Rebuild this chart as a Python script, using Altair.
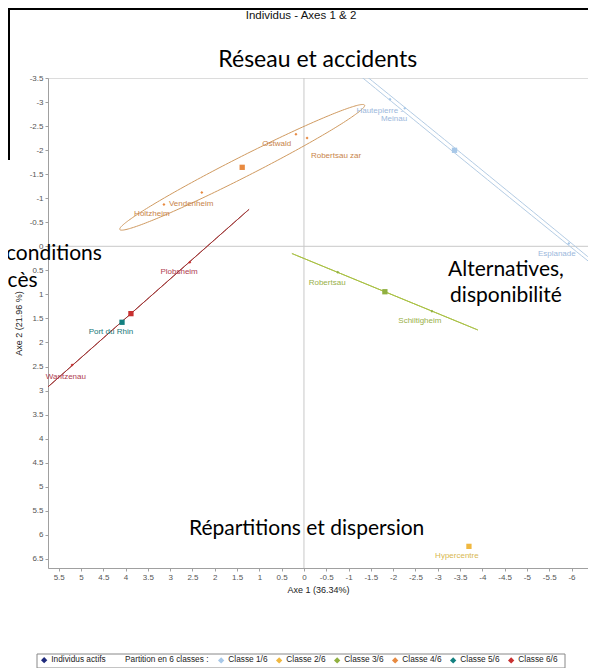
import altair as alt
import numpy as np
import pandas as pd

# ---------------- data ----------------
class_names = ["Classe 1/6", "Classe 2/6", "Classe 3/6", "Classe 4/6", "Classe 5/6", "Classe 6/6"]
point_colors = ["#a8c8e8", "#f0b840", "#90b040", "#e88a40", "#138080", "#c83030"]
ellipse_colors = ["#b4cce4", "#e8c060", "#a8c040", "#d09a60", "#208080", "#a03838"]
label_colors = ["#9cb8dc", "#d8b850", "#98b048", "#c8844a", "#207878", "#b04050"]

names = ["Hautepierre -", "Meinau", "Esplanade", "Hypercentre", "Robertsau", "Schiltigheim",
         "Ostwald", "Robertsau zar", "Vendenheim", "Holtzheim", "Port du Rhin", "Plobsheim", "Wantzenau"]
classes = ["Classe 1/6", "Classe 1/6", "Classe 1/6", "Classe 2/6", "Classe 3/6", "Classe 3/6",
           "Classe 4/6", "Classe 4/6", "Classe 4/6", "Classe 4/6", "Classe 5/6", "Classe 6/6", "Classe 6/6"]
axe1 = [-1.93, -2.26, -5.94, -3.70, -0.76, -2.87, 0.18, -0.07, 2.29, 3.14, 4.08, 2.56, 5.20]
axe2 = [-3.06, -2.87, -0.06, 6.24, 0.54, 1.35, -2.33, -2.25, -1.12, -0.87, 1.58, 0.33, 2.47]
label_x = [-1.70, -2.02, -5.67, -3.43, -0.52, -2.60, 0.61, -0.72, 2.53, 3.41, 4.33, 2.80, 5.34]
label_y = [-2.81, -2.64, 0.15, 6.44, 0.77, 1.56, -2.12, -1.87, -0.89, -0.67, 1.79, 0.54, 2.72]

# ellipse of each class: one end of the major axis and minor/major ratio
ellipse_tip_x = [-8.25, None, 0.27, 4.13, None, 1.23]
ellipse_tip_y = [1.68, None, 0.15, -0.35, None, -0.77]
ellipse_ratio = [0.007, 0.0, 0.0, 0.07, 0.0, 0.0]

x_ticks = [5.5, 5, 4.5, 4, 3.5, 3, 2.5, 2, 1.5, 1, 0.5, 0, -0.5, -1, -1.5, -2, -2.5, -3,
           -3.5, -4, -4.5, -5, -5.5, -6]
y_ticks = [-3.5, -3, -2.5, -2, -1.5, -1, -0.5, 0, 0.5, 1, 1.5, 2, 2.5, 3, 3.5, 4, 4.5, 5,
           5.5, 6, 6.5]

head_text = ["Réseau et accidents"]
head_x = [-0.31]
head_y = [-3.72]
annot_text = [", conditions", "ccès", "Alternatives,", "disponibilité", "Répartitions et dispersion"]
annot_x = [5.72, 6.42, -4.53, -4.53, -0.06]
annot_y = [0.29, 0.85, 0.62, 1.16, 6.01]

chart_title = "Individus - Axes 1 & 2"

# ---------------- tables ----------------
ecol = dict(zip(class_names, ellipse_colors))
lcol = dict(zip(class_names, label_colors))
ind = pd.DataFrame({"nom": names, "classe": classes, "x": axe1, "y": axe2,
                    "lx": label_x, "ly": label_y, "type": "Individus actifs"})
ind["lcol"] = ind["classe"].map(lcol)
cent = ind.groupby("classe", as_index=False)[["x", "y"]].mean()

t = np.linspace(0, 2 * np.pi, 241)
rows = []
for cls, tx, ty, k in zip(class_names, ellipse_tip_x, ellipse_tip_y, ellipse_ratio):
    if tx is None:
        continue
    c = cent[cent.classe == cls].iloc[0]
    ux, uy = tx - c.x, ty - c.y
    vx, vy = -uy * k, ux * k
    for i, tt in enumerate(t):
        rows.append({"classe": cls, "ecol": ecol[cls], "i": i,
                     "x": c.x + ux * np.cos(tt) + vx * np.sin(tt),
                     "y": c.y + uy * np.cos(tt) + vy * np.sin(tt)})
ell = pd.DataFrame(rows)
annot = pd.DataFrame({"txt": annot_text, "x": annot_x, "y": annot_y})
head = pd.DataFrame({"txt": head_text, "x": head_x, "y": head_y})

FONT = "Liberation Sans"
xs = alt.Scale(domain=[-6.37, 5.74], reverse=True, nice=False, zero=False)
ys = alt.Scale(domain=[-3.5, 6.69], reverse=True, nice=False, zero=False)
x_axis = alt.Axis(values=x_ticks, labelExpr="toString(datum.value)", title="Axe 1 (36.34%)",
                  titlePadding=4, labelOverlap=False)
y_axis = alt.Axis(values=y_ticks, labelExpr="toString(datum.value)", title="Axe 2 (21.96 %)",
                  titlePadding=6, labelOverlap=False)


def X(f):
    return alt.X(f"{f}:Q", scale=xs, axis=x_axis)


def Y(f):
    return alt.Y(f"{f}:Q", scale=ys, axis=y_axis)


zero_v = alt.Chart(pd.DataFrame({"x": [0]})).mark_rule(color="#c8c8c8", strokeWidth=1).encode(x=X("x"))
zero_h = alt.Chart(pd.DataFrame({"y": [0]})).mark_rule(color="#c8c8c8", strokeWidth=1).encode(y=Y("y"))

ellipses = alt.Chart(ell).mark_line(clip=True, strokeWidth=1).encode(
    x=X("x"), y=Y("y"), detail="classe:N",
    stroke=alt.Stroke("ecol:N", scale=None),
    order=alt.Order("i:Q"))

legend_common = dict(orient="none", direction="horizontal", labelFont=FONT, labelFontSize=8.3,
                     labelColor="#222", titleFont=FONT, titleFontSize=8.3, titleFontWeight="normal",
                     titleColor="#222", symbolType="diamond", symbolSize=40, symbolStrokeWidth=0,
                     symbolOpacity=1, labelOffset=3)

class_legend = alt.Legend(title="Partition en 6 classes :", titleOrient="left", titlePadding=8,
                          columnPadding=7, legendX=77, legendY=578, **legend_common)
color_enc = alt.Color("classe:N", scale=alt.Scale(domain=class_names, range=point_colors),
                      legend=class_legend)

points = alt.Chart(ind).mark_point(filled=True, size=9, opacity=1).encode(
    x=X("x"), y=Y("y"), color=color_enc,
    shape=alt.Shape("type:N", scale=alt.Scale(domain=["Individus actifs"], range=["diamond"]),
                    legend=alt.Legend(title=None, legendX=-8, legendY=578,
                                      symbolFillColor="#1f2a7c", symbolStrokeColor="#1f2a7c",
                                      **legend_common)))

centroids = alt.Chart(cent).mark_point(filled=True, shape="square", size=28, opacity=1).encode(
    x=X("x"), y=Y("y"), color=color_enc)

labels = alt.Chart(ind).mark_text(font=FONT, fontSize=8, baseline="middle").encode(
    x=X("lx"), y=Y("ly"), text="nom:N", fill=alt.Fill("lcol:N", scale=None))

annots = alt.Chart(annot).mark_text(font="Lato", fontSize=21, color="black",
                                    baseline="alphabetic", align="center").encode(
    x=X("x"), y=Y("y"), text="txt:N")
heads = alt.Chart(head).mark_text(font="Lato", fontSize=23, color="black",
                                  baseline="alphabetic", align="center").encode(
    x=X("x"), y=Y("y"), text="txt:N")

one = pd.DataFrame({"a": [0]})
title_mark = alt.Chart(pd.DataFrame({"t": [chart_title]})).mark_text(
    font=FONT, fontSize=11.5, color="#111", baseline="middle", align="center").encode(
    x=alt.value(253), y=alt.value(-62), text="t:N")
legend_box = alt.Chart(one).mark_rect(filled=False, stroke="#888", strokeWidth=1).encode(
    x=alt.value(-11), x2=alt.value(517), y=alt.value(576), y2=alt.value(590))
top_line = alt.Chart(one).mark_rule(color="black", strokeWidth=2).encode(
    x=alt.value(-40), x2=alt.value(540), y=alt.value(-69))
left_line = alt.Chart(one).mark_rule(color="black", strokeWidth=2).encode(
    x=alt.value(-39), y=alt.value(-70), y2=alt.value(82))

chart = alt.layer(zero_v, zero_h, ellipses, points, centroids, labels, annots, heads,
                  title_mark, legend_box, top_line, left_line).properties(
    width=540, height=490,
    autosize=alt.AutoSizeParams(type="none"),
    padding={"left": 40, "top": 70, "right": 0, "bottom": 100},
).configure_view(stroke="#dcdcdc").configure_axis(
    grid=False, labelFont=FONT, labelFontSize=8, labelColor="#555", domainColor="#a0a0a0",
    tickColor="#a0a0a0", tickSize=3, labelPadding=2, titleFont=FONT, titleFontSize=9,
    titleFontWeight="normal", titleColor="#222", labelOverlap=False)

chart.save("out.html", embed_options={"renderer": "svg", "actions": False})
